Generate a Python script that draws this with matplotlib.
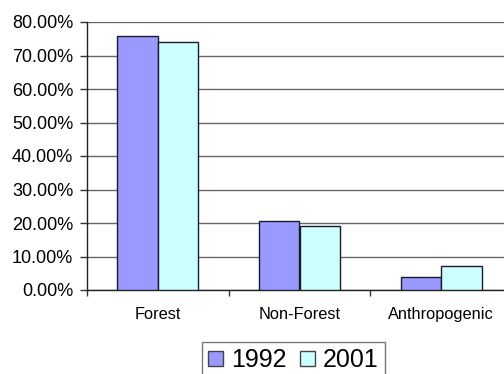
import matplotlib.pyplot as plt
import numpy as np
from matplotlib.ticker import FuncFormatter, FixedLocator, NullFormatter

plt.rcParams['font.family'] = ['Liberation Sans', 'DejaVu Sans']

categories = ['Forest', 'Non-Forest', 'Anthropogenic']
years = ['1992', '2001']
share_1992 = [75.8, 20.6, 3.8]
share_2001 = [73.9, 19.1, 7.1]
colors = ['#9999ff', '#ccffff']

W, H = 504, 374
fig = plt.figure(figsize=(W / 100, H / 100), dpi=100)
# plot area runs slightly past the right edge of the figure
ax = fig.add_axes([87 / W, 1 - 290 / H, 425 / W, 268 / H])

x = np.arange(len(categories))
bw = 0.286
for i, (vals, c, lab) in enumerate(zip([share_1992, share_2001], colors, years)):
    ax.bar(x + (i - 0.5) * bw, vals, bw, color=c, edgecolor='#1a1a2e',
           linewidth=1.0, label=lab, zorder=3)

ax.set_xlim(-0.5, 2.5)
ax.set_ylim(0, 80)
ax.set_yticks(np.arange(0, 81, 10))
ax.yaxis.set_major_formatter(FuncFormatter(lambda v, p: f'{v:.2f}%'))
ax.yaxis.grid(True, color='#666666', linewidth=1.0, zorder=0)
ax.tick_params(axis='y', length=5, width=1, color='#333333', labelsize=13, pad=5)

ax.xaxis.set_major_locator(FixedLocator([-0.5, 0.5, 1.5, 2.5]))
ax.xaxis.set_major_formatter(NullFormatter())
ax.xaxis.set_minor_locator(FixedLocator(x))
ax.set_xticklabels(categories, minor=True)
ax.tick_params(axis='x', which='major', length=4.5, width=1, color='#333333')
ax.tick_params(axis='x', which='minor', length=0, labelsize=11.8, pad=12)

for s in ['top', 'right']:
    ax.spines[s].set_visible(False)
for s in ['left', 'bottom']:
    ax.spines[s].set_color('#222222')
    ax.spines[s].set_linewidth(1.0)

leg = fig.legend(loc='upper left', bbox_to_anchor=(202 / W, 1 - 342 / H), ncol=2,
                 fontsize=18, frameon=True, fancybox=False, edgecolor='#555555',
                 handlelength=0.6, handleheight=0.6, handletextpad=0.3,
                 columnspacing=0.55, borderpad=0.25, borderaxespad=0)
leg.get_frame().set_linewidth(1.0)
for h in leg.legend_handles:
    h.set_edgecolor('#444444')

fig.savefig('out.png', dpi=100)
